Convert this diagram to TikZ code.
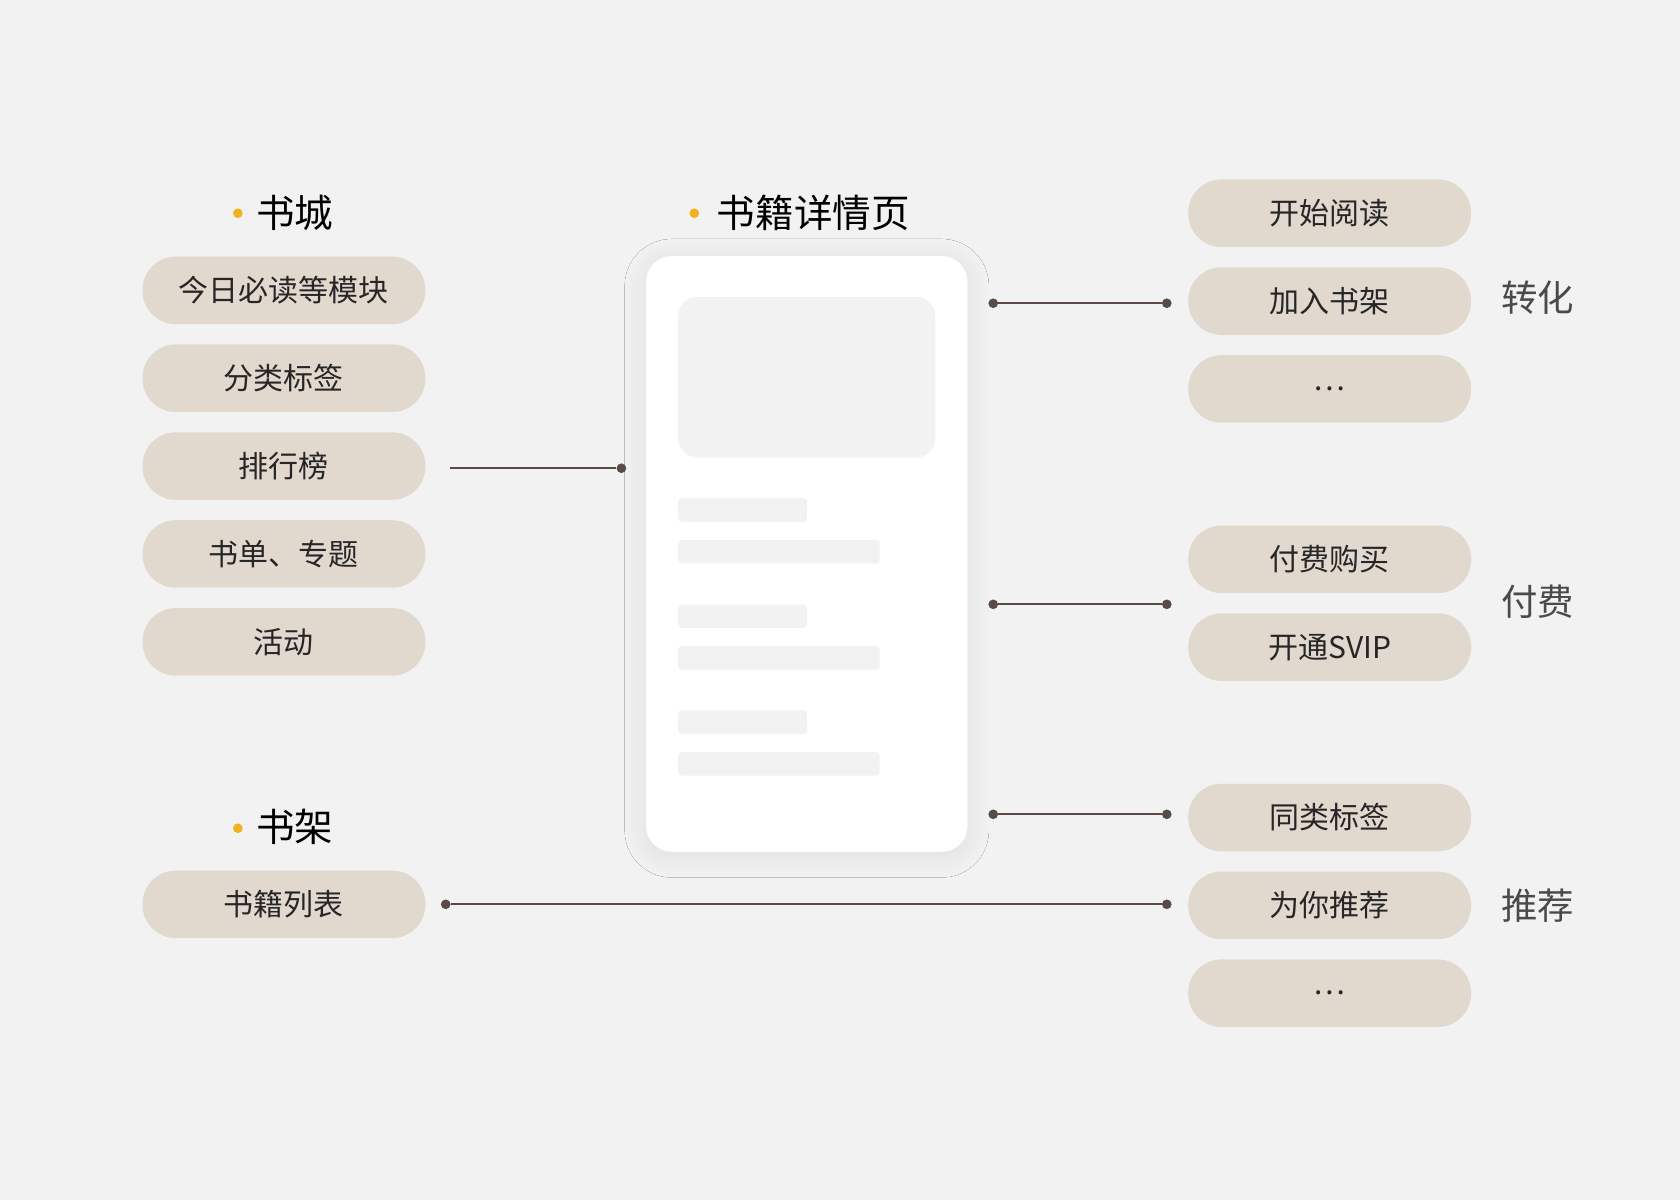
\documentclass[tikz,border=0pt]{standalone}
\usepackage{fontspec}
\setmainfont{Noto Sans CJK SC}
\usetikzlibrary{shadows.blur}
\definecolor{bg}{HTML}{F2F2F2}
\definecolor{pill}{HTML}{E1D8CE}
\definecolor{ln}{HTML}{5A4A48}
\definecolor{dotc}{HTML}{F2B21B}
\definecolor{lbl}{HTML}{4A4A4A}
\definecolor{bar}{HTML}{F2F2F2}
\tikzset{
 pillbox/.style={fill=pill,rounded corners=15.5pt,minimum width=132pt,minimum height=31.5pt,font=\fontsize{14}{16}\selectfont,text=black!85},
 head/.style={font=\fontsize{18}{20}\selectfont,text=black,anchor=west},
 grp/.style={font=\fontsize{17}{20}\selectfont,text=lbl},
 conn/.style={draw=ln,line width=0.8pt},
 cdot/.style={circle,fill=ln,inner sep=0pt,minimum size=4.5pt},
 bdot/.style={circle,fill=dotc,inner sep=0pt,minimum size=4.5pt},
}
\begin{document}
\begin{tikzpicture}[x=0.5pt,y=-0.5pt]
\fill[bg] (0,0) rectangle (1568,1120);
\useasboundingbox (0,0) rectangle (1568,1120);
% headings
\node[bdot] (d1) at (222,199) {}; \node[head] (h1) at (232,199) {书城};
\node[bdot] (d2) at (222,773) {}; \node[head] (h2) at (232,772) {书架};
\node[bdot] (d3) at (648,199) {}; \node[head] (h3) at (662,199) {书籍详情页};
% left pills
\node[pillbox] (l1) at (265,271) {今日必读等模块};
\node[pillbox] (l2) at (265,353) {分类标签};
\node[pillbox] (l3) at (265,435) {排行榜};
\node[pillbox] (l4) at (265,517) {书单、专题};
\node[pillbox] (l5) at (265,599) {活动};
\node[pillbox] (l6) at (265,844) {书籍列表};
% right pills
\node[pillbox] (r1) at (1241,199) {开始阅读};
\node[pillbox] (r2) at (1241,281) {加入书架};
\node[pillbox] (r3) at (1241,363) {…};
\node[pillbox] (r4) at (1241,522) {付费购买};
\node[pillbox] (r5) at (1241,604) {开通SVIP};
\node[pillbox] (r6) at (1241,763) {同类标签};
\node[pillbox] (r7) at (1241,845) {为你推荐};
\node[pillbox] (r8) at (1241,927) {…};
\node[grp] (g1) at (1435,278) {转化};
\node[grp] (g2) at (1435,562) {付费};
\node[grp] (g3) at (1435,845) {推荐};
% card
\fill[white,rounded corners=12pt,blur shadow={shadow blur steps=10,shadow xshift=0pt,shadow yshift=-2pt,shadow opacity=8,shadow blur radius=10pt}] (603,239) rectangle (903,795);
\fill[bar,rounded corners=9pt] (633,277) rectangle (873,427);
\foreach \y in {465,564,663} \fill[bar,rounded corners=1.5pt] (633,\y) rectangle (753,\y+22);
\foreach \y in {504,603,702} \fill[bar,rounded corners=1.5pt] (633,\y) rectangle (821,\y+22);
% connectors
\coordinate (a1) at (420,437); \node[cdot] (a2) at (580,437) {};
\draw[conn] (a1) -- (a2);
\node[cdot] (b1) at (927,283) {}; \node[cdot] (b2) at (1089,283) {};
\draw[conn] (b1) -- (b2);
\node[cdot] (c1) at (927,564) {}; \node[cdot] (c2) at (1089,564) {};
\draw[conn] (c1) -- (c2);
\node[cdot] (e1) at (927,760) {}; \node[cdot] (e2) at (1089,760) {};
\draw[conn] (e1) -- (e2);
\node[cdot] (f1) at (416,844) {}; \node[cdot] (f2) at (1089,844) {};
\draw[conn] (f1) -- (f2);
\end{tikzpicture}
\end{document}
